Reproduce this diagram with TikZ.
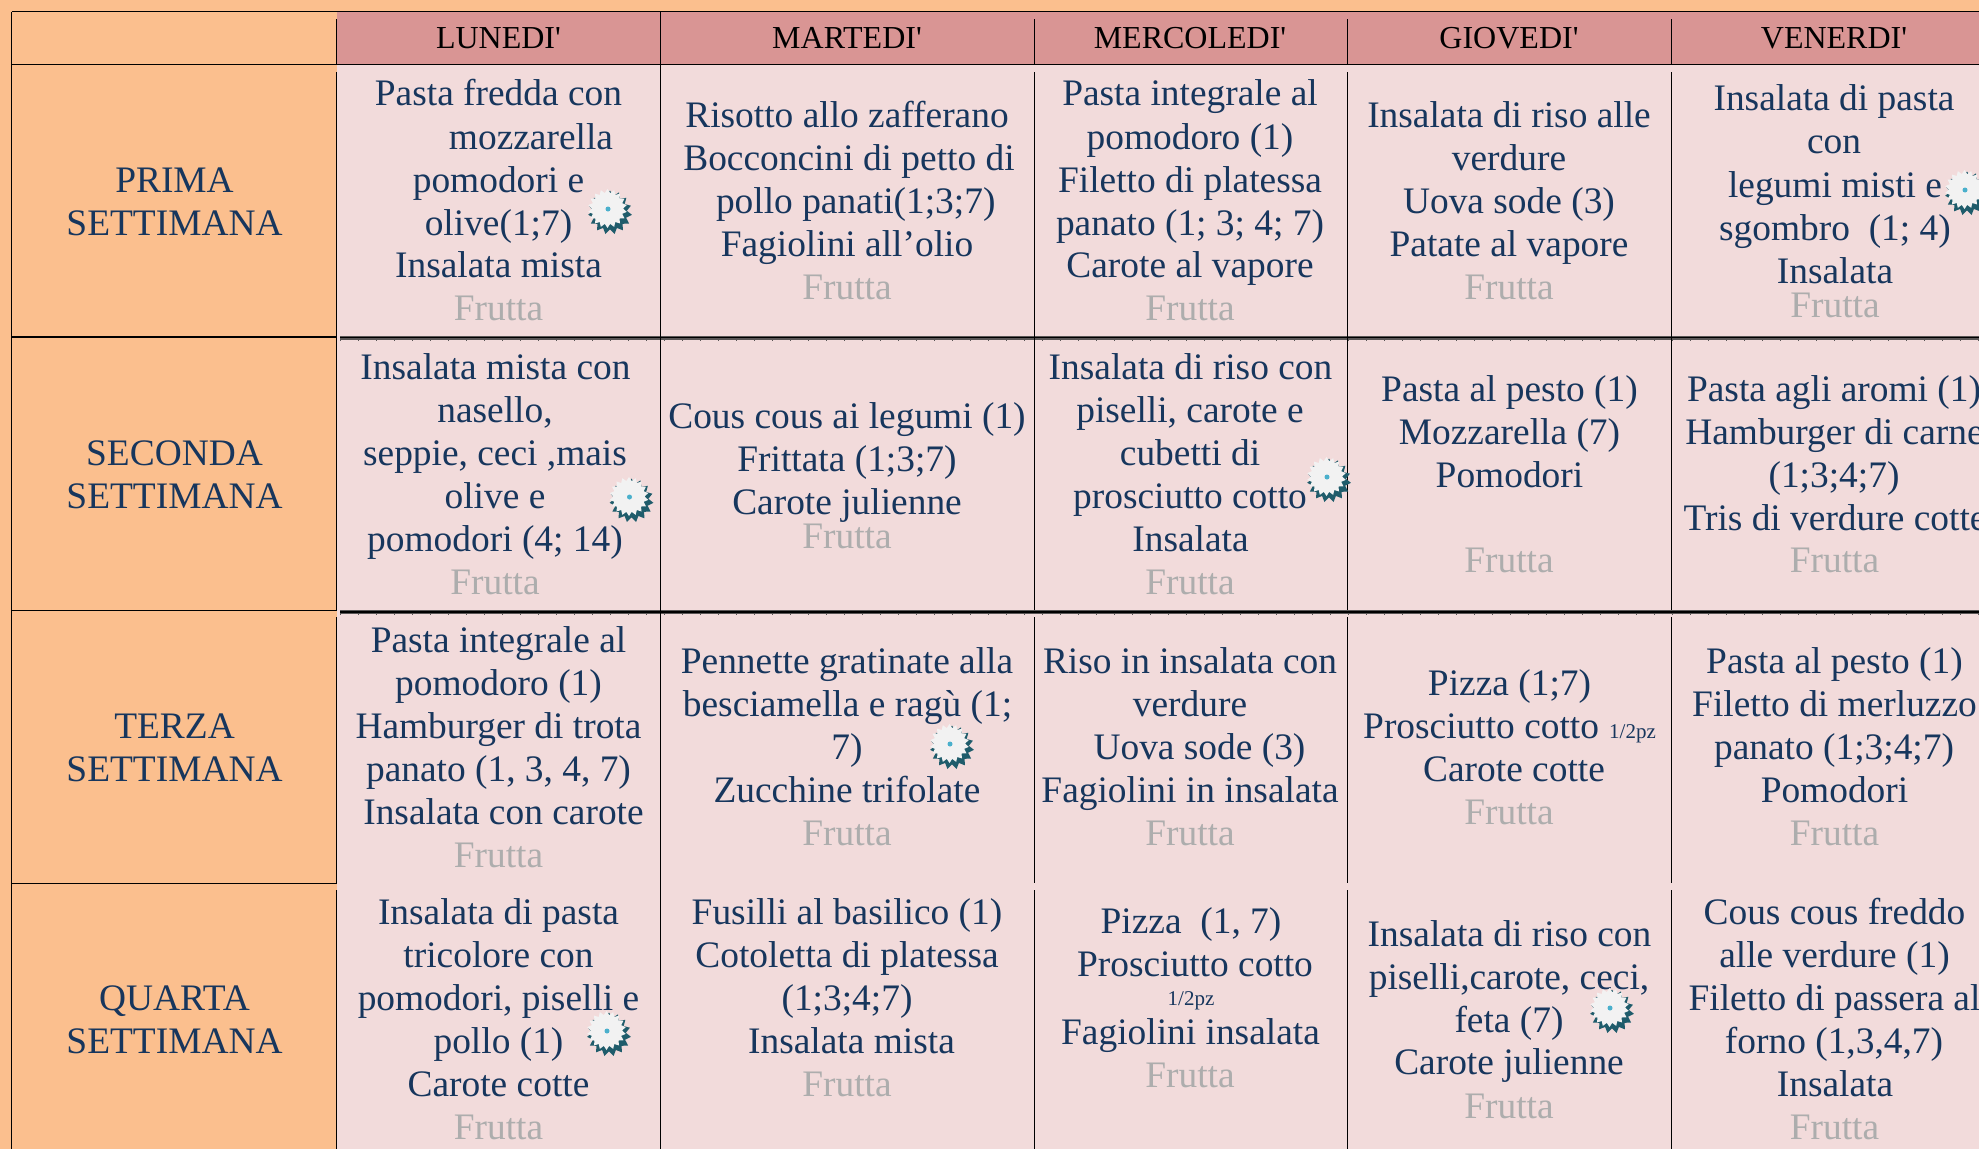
\documentclass[tikz,border=0pt]{standalone}
\usepackage{fontspec}
\setmainfont{Liberation Serif}
\usetikzlibrary{shapes.geometric}
\definecolor{bgorange}{HTML}{FBBF8E}
\definecolor{headred}{HTML}{D99594}
\definecolor{bodypink}{HTML}{F2DBDB}
\definecolor{inkblue}{HTML}{17365D}
\definecolor{fruitgrey}{HTML}{ADADAD}
\definecolor{gearteal}{HTML}{1F5C6B}
\definecolor{gearwhite}{HTML}{F2F2F2}
\definecolor{geardot}{HTML}{4AB0CC}
\definecolor{bandgrey}{HTML}{5A5656}
\tikzset{
  x=1pt,y=-1pt,
  txt/.style={anchor=base,inner sep=0pt,text=inkblue,font=\fontsize{37.4}{43}\selectfont},
  fru/.style={txt,text=fruitgrey},
  hdr/.style={anchor=base,inner sep=0pt,text=black,font=\fontsize{32}{38}\selectfont},
  small/.style={anchor=base,inner sep=0pt,text=inkblue,font=\fontsize{21}{24}\selectfont},
  grid/.style={draw=black,line width=1pt},
  heavy/.style={draw=black,line width=1.7pt},
  band/.style={draw=bandgrey,line width=3.4pt},
  bandcore/.style={draw=black,line width=1.4pt},
  bandtick/.style={draw=bandgrey,line width=5pt,dash pattern=on 0.7pt off 17.3pt},
  gearshadow/.style={star,star points=15,star point ratio=1.3,minimum size=44pt,inner sep=0pt,draw=none,fill=gearteal},
  gearface/.style={star,star points=18,star point ratio=1.25,minimum size=39pt,inner sep=0pt,draw=none,fill=gearwhite},
}
\newcommand{\gearmark}[3]{%
  \node[gearshadow] (#1s) at (#2+2,#3+3.5) {};
  \node[gearface] (#1w) at (#2-0.5,#3-0.5) {};
  \node[circle,fill=geardot,minimum size=5pt,inner sep=0pt] (#1d) at (#2,#3) {};
}
\begin{document}
\begin{tikzpicture}
\useasboundingbox (0,0) rectangle (1979,1149);
\fill[bgorange] (0,0) rectangle (1979,1149);
\fill[headred] (336.5,12) rectangle (1979,64);
\fill[bodypink] (336.5,64) rectangle (1979,1149);
% horizontal rules
\draw[grid] (11.5,11.7) -- (1979,11.7);
\draw[grid] (11.5,64) -- (1979,64);
\draw[heavy] (11.5,337) -- (336.5,337);
\draw[band] (340,338) -- (1979,338);
\draw[bandtick] (340,338) -- (1979,338);
\draw[bandcore] (340,337.5) -- (1979,337.5);
\draw[grid] (11.5,610.8) -- (336.5,610.8);
\draw[band] (340,612) -- (1979,612);
\draw[bandtick] (340,612) -- (1979,612);
\draw[bandcore] (340,612) -- (1979,612);
\draw[grid] (11.5,883) -- (336.5,883);
% vertical rules
\draw[grid] (11.5,12) -- (11.5,1149);
\draw[grid] (336.5,19) -- (336.5,64);
\draw[grid] (336.5,72) -- (336.5,337);
\draw[grid] (336.5,338) -- (336.5,611);
\draw[grid] (336.5,617) -- (336.5,883);
\draw[grid] (336.5,890) -- (336.5,1149);
\draw[grid] (660.5,12) -- (660.5,1149);
\draw[grid] (1034.5,19) -- (1034.5,64);
\draw[grid] (1034.5,72) -- (1034.5,610);
\draw[grid] (1034.5,617) -- (1034.5,883);
\draw[grid] (1034.5,890) -- (1034.5,1149);
\draw[grid] (1347.5,19) -- (1347.5,64);
\draw[grid] (1347.5,72) -- (1347.5,610);
\draw[grid] (1347.5,617) -- (1347.5,883);
\draw[grid] (1347.5,890) -- (1347.5,1149);
\draw[grid] (1671.5,19) -- (1671.5,64);
\draw[grid] (1671.5,72) -- (1671.5,610);
\draw[grid] (1671.5,617) -- (1671.5,883);
\draw[grid] (1671.5,890) -- (1671.5,1149);
% headers
\node[hdr] (h1) at (498.5,48) {LUNEDI\textquotesingle};
\node[hdr] (h2) at (847,48) {MARTEDI\textquotesingle};
\node[hdr] (h3) at (1190,48) {MERCOLEDI\textquotesingle};
\node[hdr] (h4) at (1509,48) {GIOVEDI\textquotesingle};
\node[hdr] (h5) at (1834,48) {VENERDI\textquotesingle};
% week labels
\node[txt] (w1a) at (174.5,192) {PRIMA};
\node[txt] (w1b) at (174.5,235) {SETTIMANA};
\node[txt] (w2a) at (174.5,465) {SECONDA};
\node[txt] (w2b) at (174.5,508) {SETTIMANA};
\node[txt] (w3a) at (174.5,738) {TERZA};
\node[txt] (w3b) at (174.5,781) {SETTIMANA};
\node[txt] (w4a) at (174.5,1010) {QUARTA};
\node[txt] (w4b) at (174.5,1053) {SETTIMANA};
% row 1
\node[txt] (a1) at (498.5,105) {Pasta fredda con};
\node[txt] (a2) at (531,149) {mozzarella};
\node[txt] (a3) at (498.5,192) {pomodori e};
\node[txt] (a4) at (498.5,235) {olive(1;7)};
\node[txt] (a5) at (498.5,277) {Insalata mista};
\node[fru] (a6) at (498.5,320) {Frutta};
\node[txt] (b1) at (847,127) {Risotto allo zafferano};
\node[txt] (b2) at (849,170) {Bocconcini di petto di};
\node[txt] (b3) at (855.7,213) {pollo panati(1;3;7)};
\node[txt] (b4) at (847,256) {Fagiolini all’olio};
\node[fru] (b5) at (847,299) {Frutta};
\node[txt] (c1) at (1190,105) {Pasta integrale al};
\node[txt] (c2) at (1190,149) {pomodoro (1)};
\node[txt] (c3) at (1190,192) {Filetto di platessa};
\node[txt] (c4) at (1190,235) {panato (1; 3; 4; 7)};
\node[txt] (c5) at (1190,277) {Carote al vapore};
\node[fru] (c6) at (1190,320) {Frutta};
\node[txt] (d1) at (1509,127) {Insalata di riso alle};
\node[txt] (d2) at (1509,170) {verdure};
\node[txt] (d3) at (1509,213) {Uova sode (3)};
\node[txt] (d4) at (1509,256) {Patate al vapore};
\node[fru] (d5) at (1509,299) {Frutta};
\node[txt] (e1) at (1834,110) {Insalata di pasta};
\node[txt] (e2) at (1834,153) {con};
\node[txt] (e3) at (1835,197) {legumi misti e};
\node[txt] (e4) at (1835,240) {sgombro\ \ (1; 4)};
\node[txt] (e5) at (1835,283) {Insalata};
\node[fru] (e6) at (1835,317) {Frutta};
% row 2
\node[txt] (f1) at (495.5,379) {Insalata mista con};
\node[txt] (f2) at (495,422) {nasello,};
\node[txt] (f3) at (495,465) {seppie, ceci ,mais};
\node[txt] (f4) at (495,508) {olive e};
\node[txt] (f5) at (495,551) {pomodori (4; 14)};
\node[fru] (f6) at (495,594) {Frutta};
\node[txt] (g1) at (847,428) {Cous cous ai legumi (1)};
\node[txt] (g2) at (847,471) {Frittata (1;3;7)};
\node[txt] (g3) at (847,514) {Carote julienne};
\node[fru] (g4) at (847,548) {Frutta};
\node[txt] (i1) at (1190.5,379) {Insalata di riso con};
\node[txt] (i2) at (1190,422) {piselli, carote e};
\node[txt] (i3) at (1190,465) {cubetti di};
\node[txt] (i4) at (1190,508) {prosciutto cotto};
\node[txt] (i5) at (1190.5,551) {Insalata};
\node[fru] (i6) at (1190,594) {Frutta};
\node[txt] (j1) at (1509.5,401) {Pasta al pesto (1)};
\node[txt] (j2) at (1509.5,444) {Mozzarella (7)};
\node[txt] (j3) at (1509.5,487) {Pomodori};
\node[fru] (j4) at (1509,572) {Frutta};
\node[txt] (k1) at (1834,401) {Pasta agli aromi (1)};
\node[txt] (k2) at (1834.5,444) {Hamburger di carne};
\node[txt] (k3) at (1834,487) {(1;3;4;7)};
\node[txt] (k4) at (1835,530) {Tris di verdure cotte};
\node[fru] (k5) at (1834.5,572) {Frutta};
% row 3
\node[txt] (l1) at (498.5,652) {Pasta integrale al};
\node[txt] (l2) at (498.5,695) {pomodoro (1)};
\node[txt] (l3) at (498.5,738) {Hamburger di trota};
\node[txt] (l4) at (498.5,781) {panato (1, 3, 4, 7)};
\node[txt] (l5) at (503.5,824) {Insalata con carote};
\node[fru] (l6) at (498.5,867) {Frutta};
\node[txt] (m1) at (847,673) {Pennette gratinate alla};
\node[txt] (m2) at (847.5,716) {besciamella e ragù (1;};
\node[txt] (m3) at (847,759) {7)};
\node[txt] (m4) at (847,802) {Zucchine trifolate};
\node[fru] (m5) at (847,845) {Frutta};
\node[txt] (n1) at (1190,673) {Riso in insalata con};
\node[txt] (n2) at (1190,716) {verdure};
\node[txt] (n3) at (1199.5,759) {Uova sode (3)};
\node[txt] (n4) at (1190,802) {Fagiolini in insalata};
\node[fru] (n5) at (1190,845) {Frutta};
\node[txt] (o1) at (1509.5,695) {Pizza (1;7)};
\node[txt,anchor=base west] (o2) at (1363,738) {Prosciutto cotto\ \ };
\node[small,anchor=base east] (o2s) at (1656,738) {1/2pz};
\node[txt] (o3) at (1514,781) {Carote cotte};
\node[fru] (o4) at (1509,824) {Frutta};
\node[txt] (p1) at (1834.5,673) {Pasta al pesto (1)};
\node[txt] (p2) at (1834.5,716) {Filetto di merluzzo};
\node[txt] (p3) at (1834,759) {panato (1;3;4;7)};
\node[txt] (p4) at (1834.5,802) {Pomodori};
\node[fru] (p5) at (1834.5,845) {Frutta};
% row 4
\node[txt] (q1) at (498.5,924) {Insalata di pasta};
\node[txt] (q2) at (498.5,967) {tricolore con};
\node[txt] (q3) at (498.5,1010) {pomodori, piselli e};
\node[txt] (q4) at (498.5,1053) {pollo (1)};
\node[txt] (q5) at (498.5,1096) {Carote cotte};
\node[fru] (q6) at (498.5,1139) {Frutta};
\node[txt] (r1) at (847,924) {Fusilli al basilico (1)};
\node[txt] (r2) at (847,967) {Cotoletta di platessa};
\node[txt] (r3) at (847,1010) {(1;3;4;7)};
\node[txt] (r4) at (851.5,1053) {Insalata mista};
\node[fru] (r5) at (847,1096) {Frutta};
\node[txt] (s1) at (1191,933) {Pizza\ \ (1, 7)};
\node[txt] (s2) at (1195,976) {Prosciutto cotto};
\node[small] (s3) at (1191,1005) {1/2pz};
\node[txt] (s4) at (1190.5,1044) {Fagiolini insalata};
\node[fru] (s5) at (1190,1087) {Frutta};
\node[txt] (t1) at (1509.5,946) {Insalata di riso con};
\node[txt] (t2) at (1509,989) {piselli,carote, ceci,};
\node[txt] (t3) at (1509,1032) {feta (7)};
\node[txt] (t4) at (1509,1074) {Carote julienne};
\node[fru] (t5) at (1509,1118) {Frutta};
\node[txt] (u1) at (1834.5,924) {Cous cous freddo};
\node[txt] (u2) at (1834.5,967) {alle verdure (1)};
\node[txt] (u3) at (1834.5,1010) {Filetto di passera al};
\node[txt] (u4) at (1834,1053) {forno (1,3,4,7)};
\node[txt] (u5) at (1835,1096) {Insalata};
\node[fru] (u6) at (1834.5,1139) {Frutta};
% gears
\gearmark{ga}{608}{209}
\gearmark{gb}{1965}{190}
\gearmark{gc}{629.5}{497}
\gearmark{gd}{1327}{477}
\gearmark{ge}{950}{744}
\gearmark{gf}{607}{1031}
\gearmark{gg}{1610}{1008}
\end{tikzpicture}
\end{document}
